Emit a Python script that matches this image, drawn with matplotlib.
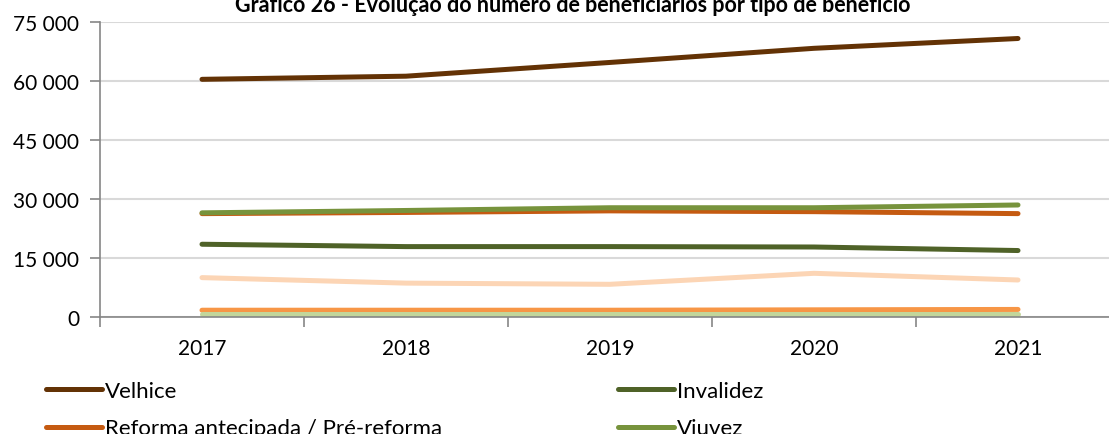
import matplotlib

matplotlib.use("Agg")
import matplotlib.pyplot as plt
from matplotlib.ticker import FuncFormatter, FixedLocator

plt.rcParams["font.family"] = ["Lato", "DejaVu Sans"]

years = ["2017", "2018", "2019", "2020", "2021"]

velhice = [60400, 61200, 64700, 68300, 70800]
invalidez = [18400, 17800, 17800, 17700, 16800]
reforma_antecipada = [26200, 26500, 26900, 26700, 26200]
viuvez = [26400, 27000, 27700, 27700, 28400]
orfandade = [9900, 8500, 8200, 11000, 9300]
doenca_profissional = [1600, 1600, 1600, 1700, 1800]
outras = [600, 600, 600, 600, 600]

series = [
    ("Velhice", velhice, "#633205"),
    ("Invalidez", invalidez, "#4F6228"),
    ("Reforma antecipada / Pré-reforma", reforma_antecipada, "#C55A11"),
    ("Viuvez", viuvez, "#77933C"),
    ("Orfandade", orfandade, "#FCD5B5"),
    ("Doença profissional", doenca_profissional, "#F79646"),
    ("Outras", outras, "#C3D69B"),
]

W, H = 1109, 435
fig = plt.figure(figsize=(W / 100, H / 100), dpi=100)
ax = fig.add_axes([100 / W, 1 - 317.5 / H, 1020 / W, 294.5 / H])

x = list(range(len(years)))
handles = {}
for name, vals, color in series:
    (ln,) = ax.plot(x, vals, color=color, linewidth=3.6, solid_capstyle="round",
                    solid_joinstyle="round", label=name)
    handles[name] = ln

ax.set_xlim(-0.5, 4.5)
ax.set_ylim(0, 75000)
ax.set_yticks(range(0, 75001, 15000))
ax.yaxis.set_major_formatter(FuncFormatter(lambda v, p: f"{int(v):,}".replace(",", " ")))
ax.set_xticks(x)
ax.set_xticklabels(years)
ax.xaxis.set_minor_locator(FixedLocator([i - 0.5 for i in range(6)]))
ax.tick_params(axis="x", which="major", length=0, pad=15.5, labelsize=15)
ax.tick_params(axis="x", which="minor", length=7, width=1.2, color="#868686")
ax.tick_params(axis="y", length=7, width=1.2, color="#868686", pad=8, labelsize=15)

ax.grid(axis="y", color="#D9D9D9", linewidth=1.5)
ax.set_axisbelow(True)
for s in ["top", "right"]:
    ax.spines[s].set_visible(False)
for s in ["left", "bottom"]:
    ax.spines[s].set_color("#868686")
    ax.spines[s].set_linewidth(1.2)

fig.text(573 / W, 1 - 12 / H, "Gráfico 26 - Evolução do número de beneficiários por tipo de benefício",
         ha="center", va="baseline", fontsize=15.5, fontweight="bold")

order = ["Velhice", "Reforma antecipada / Pré-reforma", "Orfandade", "Outras",
         "Invalidez", "Viuvez", "Doença profissional"]
fig.legend([handles[n] for n in order], order, ncol=2, loc="upper left",
           bbox_to_anchor=(46 / W, 1 - 382 / H), frameon=False, fontsize=16,
           handlelength=2.52, handletextpad=0.14, columnspacing=7.9, labelspacing=0.78,
           borderpad=0, borderaxespad=0)

fig.savefig("out.png", dpi=100)
